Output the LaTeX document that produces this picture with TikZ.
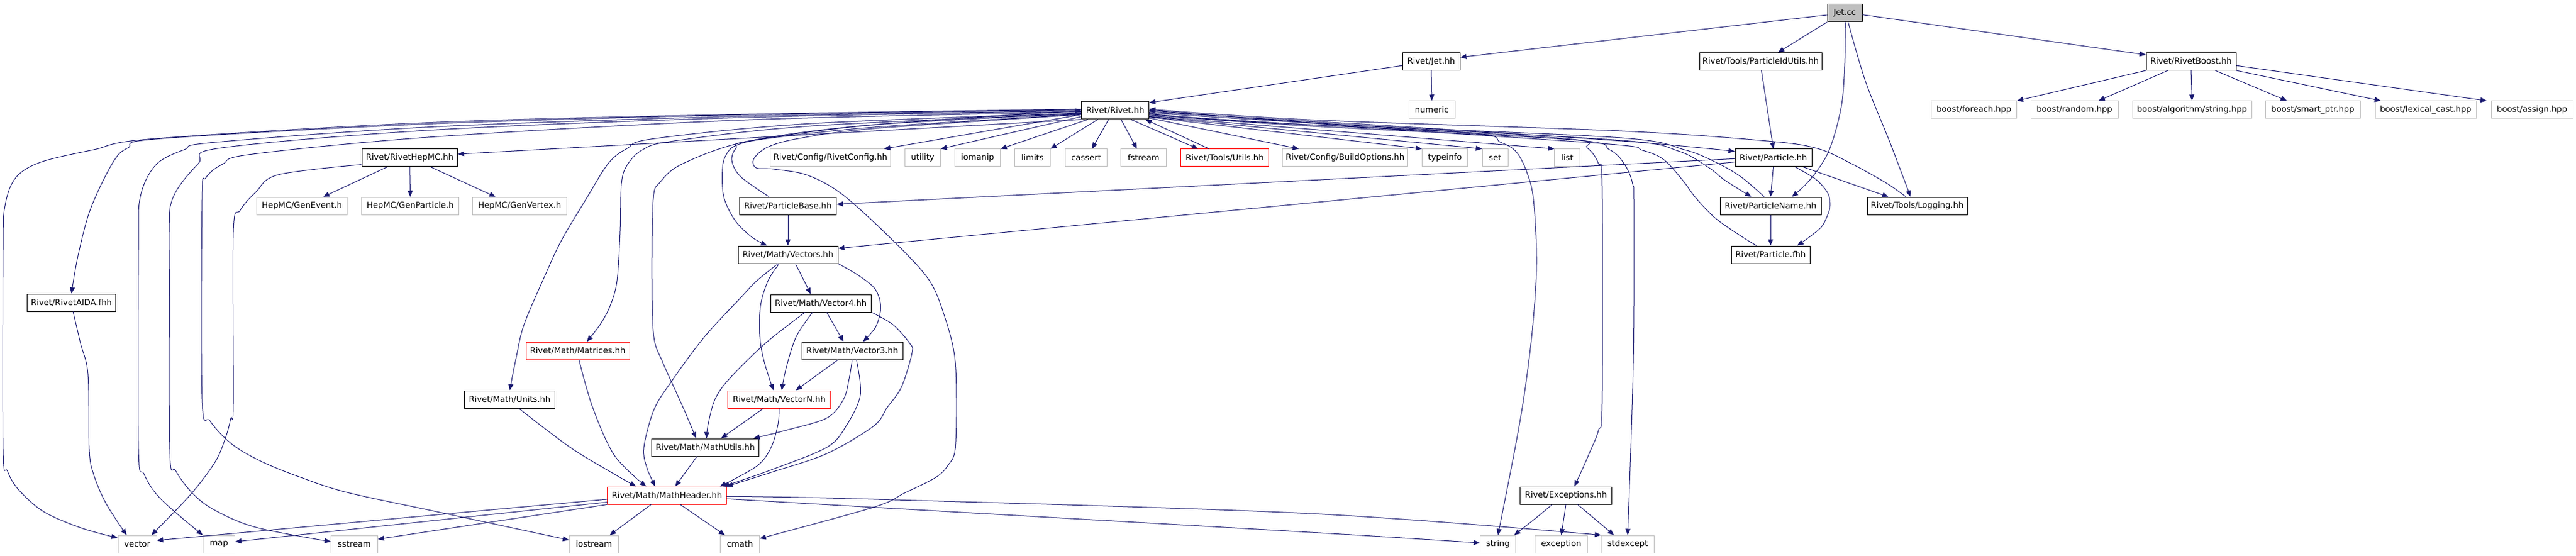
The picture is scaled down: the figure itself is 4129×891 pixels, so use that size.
\documentclass[tikz,border=0pt]{standalone}
\usepackage{fontspec}
\setmainfont{DejaVu Sans}
\usetikzlibrary{arrows.meta}
\definecolor{edgeblue}{HTML}{191970}
\definecolor{extgray}{HTML}{BFBFBF}
\definecolor{jetgray}{HTML}{BFBFBF}
\definecolor{incred}{HTML}{FF0000}
\newcommand{\hnode}[6]{\node[#1, minimum width=#5*0.75pt] (#2) at (#3,#4) {#6};}
\tikzset{
  box/.style={rectangle, minimum height=21pt, inner xsep=2pt, inner ysep=0pt, line width=0.75pt, font=\fontsize{9.9}{11}\selectfont, text=black},
  doc/.style={box, draw=black},
  ext/.style={box, draw=extgray},
  inc/.style={box, draw=incred},
  edge/.style={draw=edgeblue, line width=0.75pt, -{Triangle[length=7.5pt, width=6pt]}},
  sm/.style={smooth, tension=0.55}
}
\begin{document}
\begin{tikzpicture}[x=0.75pt, y=-0.75pt]
\useasboundingbox (0,0) rectangle (4129,891);
% ---------------- nodes ----------------
\hnode{doc, fill=jetgray}{jetcc}{2957}{21}{56}{Jet.cc}
\hnode{doc}{jethh}{2294}{98.5}{92}{Rivet/Jet.hh}
\hnode{doc}{pidutils}{2822}{98.5}{196}{Rivet/Tools/ParticleIdUtils.hh}
\hnode{doc}{boost}{3512}{98.5}{144}{Rivet/RivetBoost.hh}
\hnode{ext}{bfe}{3164}{176}{137}{boost/foreach.hpp}
\hnode{ext}{brand}{3325}{176}{140}{boost/random.hpp}
\hnode{ext}{balg}{3513.5}{176}{191}{boost/algorithm/string.hpp}
\hnode{ext}{bsp}{3707}{176}{152}{boost/smart\_ptr.hpp}
\hnode{ext}{blc}{3888}{176}{162}{boost/lexical\_cast.hpp}
\hnode{ext}{bas}{4058.5}{176}{131}{boost/assign.hpp}
\hnode{doc}{rivet}{1787.5}{177}{108}{Rivet/Rivet.hh}
\hnode{ext}{numeric}{2295}{176}{74}{numeric}
\hnode{doc}{hepmc}{656.75}{253}{153.5}{Rivet/RivetHepMC.hh}
\hnode{ext}{rconfig}{1331}{253}{192.5}{Rivet/Config/RivetConfig.hh}
\hnode{ext}{utility}{1479}{253}{56.5}{utility}
\hnode{ext}{iomanip}{1567}{253}{72.6}{iomanip}
\hnode{ext}{limits}{1655}{253}{56.5}{limits}
\hnode{ext}{cassert}{1741}{253}{67.4}{cassert}
\hnode{ext}{fstream}{1833}{253}{72.6}{fstream}
\hnode{inc}{utils}{1963}{253}{140.5}{Rivet/Tools/Utils.hh}
\hnode{ext}{buildopt}{2156}{253}{200.7}{Rivet/Config/BuildOptions.hh}
\hnode{ext}{typeinfo}{2316}{253}{72.7}{typeinfo}
\hnode{ext}{set}{2396.5}{253}{41}{set}
\hnode{ext}{list}{2512}{253}{40.5}{list}
\hnode{doc}{particle}{2842.5}{253}{123}{Rivet/Particle.hh}
\hnode{ext}{genevent}{484}{330}{145}{HepMC/GenEvent.h}
\hnode{ext}{genparticle}{657.6}{330}{156}{HepMC/GenParticle.h}
\hnode{ext}{genvertex}{833}{330}{151}{HepMC/GenVertex.h}
\hnode{doc}{pbase}{1263}{330}{155.6}{Rivet/ParticleBase.hh}
\hnode{doc}{pname}{2838}{330}{162}{Rivet/ParticleName.hh}
\hnode{doc}{logging}{3073}{330}{160}{Rivet/Tools/Logging.hh}
\hnode{doc}{vectors}{1263}{408}{160}{Rivet/Math/Vectors.hh}
\hnode{doc}{pfhh}{2838}{408}{126}{Rivet/Particle.fhh}
\hnode{doc}{aida}{114.5}{485}{142.4}{Rivet/RivetAIDA.fhh}
\hnode{doc}{vector4}{1315.7}{486}{161.4}{Rivet/Math/Vector4.hh}
\hnode{inc}{matrices}{926}{562}{166}{Rivet/Math/Matrices.hh}
\hnode{doc}{vector3}{1366}{562}{162}{Rivet/Math/Vector3.hh}
\hnode{doc}{units}{817}{640}{145}{Rivet/Math/Units.hh}
\hnode{inc}{vectorN}{1249}{640}{164.7}{Rivet/Math/VectorN.hh}
\hnode{doc}{mathutils}{1130.5}{717}{172}{Rivet/Math/MathUtils.hh}
\hnode{inc}{mathheader}{1069}{794}{190.3}{Rivet/Math/MathHeader.hh}
\hnode{doc}{exceptions}{2510}{794}{146.7}{Rivet/Exceptions.hh}
\hnode{ext}{vector}{220}{872}{62}{vector}
\hnode{ext}{map}{351}{872}{51}{map}
\hnode{ext}{sstream}{568}{872}{74.4}{sstream}
\hnode{ext}{iostream}{952}{872}{79}{iostream}
\hnode{ext}{cmath}{1186}{872}{62.4}{cmath}
\hnode{ext}{string}{2401}{872}{57.2}{string}
\hnode{ext}{exception}{2502.5}{872}{83.7}{exception}
\hnode{ext}{stdexcept}{2609}{872}{84.5}{stdexcept}
% ---------------- edges: Jet.cc ----------------
\draw[edge] ([yshift=-2.25pt]jetcc.west) -- ([yshift=5pt]jethh.east);
\draw[edge] (jetcc.south west) -- ([xshift=21pt]pidutils.north);
\draw[edge] ([yshift=-2pt]jetcc.east) -- ([yshift=8pt]boost.west);
\draw[edge] plot[sm] coordinates {([xshift=1pt]jetcc.south) (2957,100) (2953,160) (2943,207) (2930,245) (2913,273) (2893,297) ([xshift=25.5pt]pname.north)};
\draw[edge] plot[sm] coordinates {([xshift=4pt]jetcc.south) (2990,130) (3030,230) ([xshift=-8pt]logging.north)};
% boost
\draw[edge] (boost.south west) -- (bfe.north east);
\draw[edge] ([xshift=-28pt]boost.south) -- ([xshift=29pt]brand.north);
\draw[edge] (boost.south) -- (balg.north);
\draw[edge] ([xshift=29pt]boost.south) -- ([xshift=-31pt]bsp.north);
\draw[edge] (boost.south east) -- ([xshift=-54pt]blc.north);
\draw[edge] ([yshift=-5pt]boost.east) -- ([xshift=-5pt]bas.north west);
% Jet.hh, ParticleIdUtils
\draw[edge] (jethh.south) -- (numeric.north);
\draw[edge] ([yshift=-5pt]jethh.west) -- ([yshift=-1.5pt]rivet.north east);
\draw[edge] ([xshift=1pt]pidutils.south) -- (particle.north);
% ---------------- Rivet.hh short edges ----------------
\draw[edge] ([yshift=-5pt]rivet.west) -- ([xshift=-8pt]rconfig.north east);
\draw[edge] ([yshift=-7.5pt]rivet.west) -- (utility.north east);
\draw[edge] ([xshift=-33pt]rivet.south) -- (iomanip.north east);
\draw[edge] ([xshift=-21pt]rivet.south) -- (limits.north east);
\draw[edge] ([xshift=-8pt]rivet.south) -- ([xshift=7pt]cassert.north);
\draw[edge] ([xshift=7pt]rivet.south) -- ([xshift=-8pt]fstream.north);
\draw[edge] ([xshift=19pt]rivet.south) -- ([xshift=-32pt]utils.north);
\draw[edge] ([xshift=-18.75pt]utils.north) -- ([xshift=-4.5pt]rivet.south east);
\draw[edge] ([yshift=-9pt]rivet.east) -- ([xshift=20pt]buildopt.north west);
\draw[edge] ([yshift=-8pt]rivet.east) -- (typeinfo.north west);
\draw[edge] ([yshift=-7.5pt]rivet.east) -- (set.north west);
\draw[edge] ([yshift=-7pt]rivet.east) -- (list.north west);
\draw[edge] (rivet.south west) -- ([yshift=4.5pt]hepmc.east);
% ---------------- Rivet.hh long edges, right ----------------
\draw[edge] plot[sm] coordinates {([yshift=-2pt]rivet.east) (2200,200) (2600,226) ([yshift=-3pt]particle.north west)};
\draw[edge] plot[sm] coordinates {([yshift=-3pt]rivet.east) (2200,203) (2600,225) (2690,242) (2738,268) (2765,289) ([xshift=-23pt]pname.north)};
\draw[edge] plot[sm] coordinates {([xshift=-7.5pt]pname.north) (2790,283) (2750,260) (2700,240) (2600,221) (2200,202) ([yshift=-0.5pt]rivet.east)};
\draw[edge] plot[sm] coordinates {([xshift=-17pt]pfhh.north) (2790,378) (2750,350) (2718,317) (2698,290) (2667,256) (2633,241) (2580,231) (2200,205) ([yshift=0.5pt]rivet.east)};
\draw[edge] plot[sm] coordinates {([xshift=-13.5pt]logging.north) (3023,293) (2967,262) (2913,238) (2833,226) (2600,210) (2100,192) ([yshift=1.5pt]rivet.east)};
\draw[edge] plot[sm] coordinates {([yshift=-4pt]rivet.east) (2000,195) (2355,213) (2405,228) (2430,243) (2447,275) (2458,320) (2463,420) (2457,520) (2445,620) (2430,710) (string.north)};
\draw[edge] plot[sm] coordinates {([yshift=-5pt]rivet.east) (2100,200) (2508,222) (2544,237) (2562,262) (2568,300) (2568,645) (2562,690) (2548,725) (2534,757) ([xshift=10pt]exceptions.north)};
\draw[edge] plot[sm] coordinates {([yshift=-6pt]rivet.east) (2100,202) (2520,224) (2580,240) (2605,265) (2617,295) (2619,330) (2618,580) (stdexcept.north)};
% ---------------- Rivet.hh long edges, left ----------------
\draw[edge] plot[sm] coordinates {([yshift=1.5pt]rivet.west) (1200,183) (700,196) (250,222) (150,240) (65,260) (25,285) (8,330) (5,400) (5,720) (12,755) (30,785) (70,820) (130,846) ([yshift=7.5pt]vector.west)};
\draw[edge] plot[sm] coordinates {([yshift=1pt]rivet.west) (1200,184) (700,198) (260,222) (205,237) (180,262) (145,335) (125,410) (aida.north)};
\draw[edge] plot[sm] coordinates {(rivet.west) (1200,186) (700,203) (345,228) (295,240) (250,264) (225,315) (222,400) (222,720) (231,760) (258,800) (map.north west)};
\draw[edge] plot[sm] coordinates {([yshift=-1pt]rivet.west) (1200,188) (700,208) (355,237) (318,262) (276,320) (272,400) (272,720) (282,755) (310,792) (345,818) (410,845) ([yshift=3pt]sstream.west)};
\draw[edge] plot[sm] coordinates {([yshift=-2pt]rivet.west) (1200,192) (700,219) (405,247) (357,263) (330,285) (324,320) (324,640) (337,675) (372,712) (420,740) (482,765) (556,789) (700,820) ([yshift=5pt]iostream.west)};
\draw[edge] plot[sm] coordinates {([yshift=-3pt]rivet.west) (1300,198) (1050,222) (1005,238) (975,262) (940,318) (900,385) (872,445) (840,520) (828,570) (units.north)};
\draw[edge] plot[sm] coordinates {([yshift=-3.5pt]rivet.west) (1300,202) (1080,226) (1030,240) (1005,265) (996,295) (994,370) (989,450) (978,490) (962,520) ([xshift=11pt]matrices.north)};
\draw[edge] plot[sm] coordinates {([yshift=-4pt]rivet.west) (1400,200) (1200,226) (1095,262) (1058,292) (1047,320) (1045,450) (1048,540) (1062,580) (1080,620) (1098,660) ([xshift=-11pt]mathutils.north)};
\draw[edge] plot[sm] coordinates {([yshift=-4.5pt]rivet.west) (1400,204) (1230,222) (1180,233) (1164,248) (1158,270) (1160,315) (1178,353) (1205,380) ([xshift=-25pt]vectors.north)};
\draw[edge] plot[sm] coordinates {([yshift=-5pt]rivet.west) (1400,206) (1280,222) (1230,236) (1208,255) (1212,269) (1240,271) (1295,281) (1352,313) (1436,390) (1490,450) (1515,510) (1530,570) (1533,640) (1531,720) (1520,745) (1500,765) (1450,790) (1400,813) ([yshift=6.75pt]cmath.east)};
\draw[edge] plot[sm] coordinates {([xshift=-22.5pt]pbase.north) (1187,283) (1173,257) (1180,237) (1200,226) (1400,200) (rivet.west)};
% ---------------- RivetHepMC, RivetAIDA ----------------
\draw[edge] ([xshift=-27pt]hepmc.south) -- ([xshift=25.5pt]genevent.north);
\draw[edge] (hepmc.south) -- (genparticle.north);
\draw[edge] ([xshift=25pt]hepmc.south) -- ([xshift=-29pt]genvertex.north);
\draw[edge] plot[sm] coordinates {([yshift=-8pt]hepmc.west) (446,280) (410,308) (385,337) (374,372) (374,647) (370,670) (362,700) (345,740) (305,793) ([xshift=17pt]vector.north)};
\draw[edge] plot[sm] coordinates {([xshift=2pt]aida.south) (129,550) (141,600) (143,720) (150,760) (170,807) ([xshift=-12.75pt]vector.north)};
% ---------------- Particle.hh family ----------------
\draw[edge] ([yshift=-1pt]particle.west) -- ([yshift=2pt]pbase.east);
\draw[edge] ([yshift=-5pt]particle.west) -- ([yshift=7.5pt]vectors.east);
\draw[edge] (particle.south) -- (pname.north);
\draw[edge] plot[sm] coordinates {([xshift=26pt]particle.south) (2910,287) (2930,310) (2933,330) (2930,343) (2920,363) (2900,380) ([xshift=32pt]pfhh.north)};
\draw[edge] ([xshift=35.5pt]particle.south) -- ([xshift=-34.5pt]logging.north);
\draw[edge] (pname.south) -- (pfhh.north);
\draw[edge] (pbase.south) -- (vectors.north);
% ---------------- Math ----------------
\draw[edge] ([xshift=9pt]vectors.south) -- ([xshift=-12pt]vector4.north);
\draw[edge] plot[sm] coordinates {([xshift=-10.5pt]vectors.south) (1231,450) (1219,490) (1218,540) (1225,580) ([xshift=-7pt]vectorN.north)};
\draw[edge] plot[sm] coordinates {([xshift=-12pt]vectors.south) (1213,450) (1191,473) (1129,540) (1075,613) (1048,657) (1032,717) (1037,750) ([xshift=-14pt]mathheader.north)};
\draw[edge] plot[sm] coordinates {(vectors.south east) (1374,440) (1400,460) (1410,480) (1411,500) (1403,525) ([xshift=13pt]vector3.north)};
\draw[edge] ([xshift=7pt]vector4.south) -- ([xshift=-10.5pt]vector3.north);
\draw[edge] plot[sm] coordinates {([xshift=-10pt]vector4.south) (1276,540) (1260,590) ([xshift=3pt]vectorN.north)};
\draw[edge] plot[sm] coordinates {([xshift=-19pt]vector4.south) (1227,550) (1169,607) (1146,640) (1135,680) ([xshift=1.5pt]mathutils.north)};
\draw[edge] plot[sm] coordinates {(vector4.south east) (1431,520) (1458,550) (1462,565) (1445,620) (1422,653) (1400,683) (1325,727) (1236,757) (mathheader.north east)};
\draw[edge] ([xshift=-17pt]vector3.south) -- ([xshift=20pt]vectorN.north);
\draw[edge] plot[sm] coordinates {(vector3.south) (1361,607) (1352,640) (1325,670) (1258,690) ([xshift=-7pt]mathutils.north east)};
\draw[edge] plot[sm] coordinates {([xshift=5pt]vector3.south) (1379,633) (1356,683) (1325,717) (1236,753) ([xshift=-4pt]mathheader.north east)};
\draw[edge] ([xshift=-19pt]vectorN.south) -- ([xshift=19pt]mathutils.north);
\draw[edge] plot[sm] coordinates {(vectorN.south) (1247,680) (1236,717) (1213,747) ([xshift=-8pt]mathheader.north east)};
\draw[edge] plot[sm] coordinates {([xshift=11pt]units.south) (914,717) (985,760) ([xshift=-37pt]mathheader.north)};
\draw[edge] plot[sm] coordinates {([xshift=1.5pt]matrices.south) (950,653) (985,730) ([xshift=-25pt]mathheader.north)};
\draw[edge] ([xshift=-10pt]mathutils.south) -- ([xshift=10pt]mathheader.north);
% ---------------- MathHeader out ----------------
\draw[edge] ([yshift=-4.5pt]mathheader.west) -- ([yshift=4.5pt]vector.east);
\draw[edge] ([yshift=-8pt]mathheader.west) -- ([yshift=3pt]map.east);
\draw[edge] (mathheader.south west) -- ([yshift=6pt]sstream.east);
\draw[edge] ([xshift=-19pt]mathheader.south) -- ([xshift=19pt]iostream.north);
\draw[edge] ([xshift=16pt]mathheader.south) -- ([xshift=-18pt]cmath.north);
\draw[edge] plot[sm] coordinates {([yshift=-1pt]mathheader.east) (1400,800) (2100,823) (stdexcept.north west)};
\draw[edge] plot[sm] coordinates {([yshift=-4pt]mathheader.east) (1400,813) (2100,853) ([yshift=1.5pt]string.west)};
% ---------------- Exceptions ----------------
\draw[edge] plot[sm] coordinates {([xshift=-16.5pt]exceptions.south) (2462,830) ([xshift=19.5pt]string.north)};
\draw[edge] (exceptions.south) -- (exception.north);
\draw[edge] ([xshift=14pt]exceptions.south) -- ([xshift=-16.5pt]stdexcept.north);
\end{tikzpicture}
\end{document}
